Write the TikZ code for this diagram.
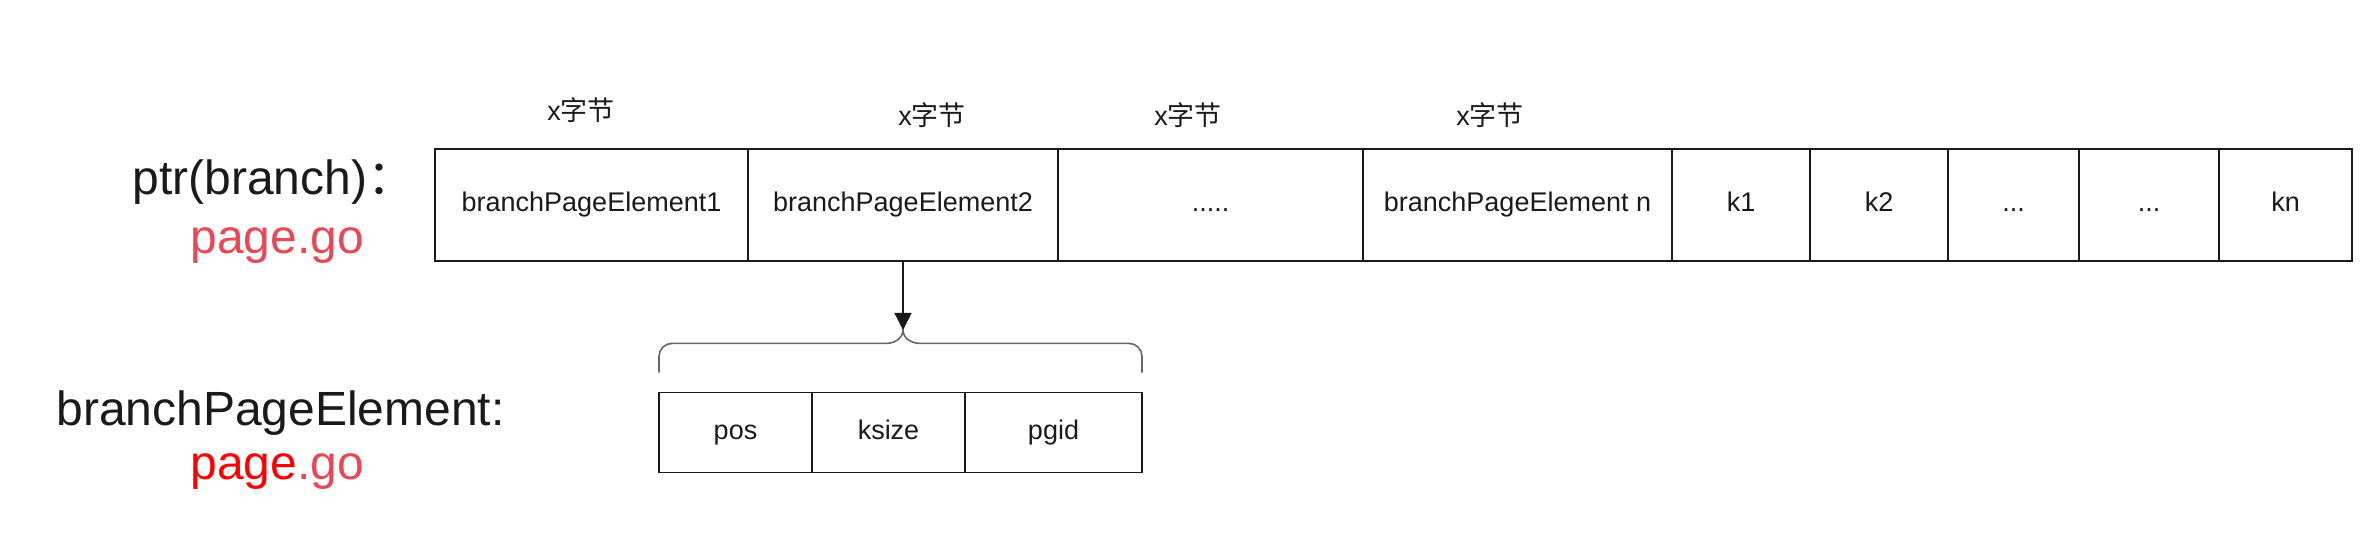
\documentclass[tikz,border=0pt]{standalone}
\usepackage{fontspec}
\setmainfont{Liberation Sans}
\newfontfamily\cjk{Noto Sans CJK SC}
\usetikzlibrary{positioning,arrows.meta}

\definecolor{inkblack}{RGB}{26,26,26}
\definecolor{gored}{RGB}{232,72,85}
\definecolor{bracegray}{RGB}{102,102,102}

\begin{document}
\begin{tikzpicture}[
    % work in points, with y going down the page
    x={(1pt,0pt)},
    y={(0pt,-1pt)},
    cell/.style={draw=inkblack, line width=0.9pt, minimum height=56pt,
        inner sep=0pt, outer sep=0pt, text=inkblack,
        text height=9.8pt, text depth=2.8pt,
        font=\fontsize{13.5}{16}\selectfont},
    field/.style={cell, minimum height=40pt},
    bytelabel/.style={text=inkblack, inner sep=0pt, text height=11pt, text depth=1.5pt,
        font=\fontsize{13.5}{16}\selectfont},
    biglabel/.style={anchor=base west, inner sep=0pt, font=\fontsize{24}{28}\selectfont}
]
    \useasboundingbox (0,0) rectangle (1180,272);

    % --- The branch page: elements followed by keys ---
    \node[cell, minimum width=156.5pt, anchor=north west] (e1) at (217.5,74.4) {branchPageElement1};
    \node[cell, minimum width=155pt, right=0pt of e1] (e2) {branchPageElement2};
    \node[cell, minimum width=152.5pt, right=0pt of e2] (e3) {.....};
    \node[cell, minimum width=154.5pt, right=0pt of e3] (e4) {branchPageElement n};
    \node[cell, minimum width=69pt, right=0pt of e4] (k1) {k1};
    \node[cell, minimum width=69pt, right=0pt of k1] (k2) {k2};
    \node[cell, minimum width=65.5pt, right=0pt of k2] (k3) {...};
    \node[cell, minimum width=70pt, right=0pt of k3] (k4) {...};
    \node[cell, minimum width=66.5pt, right=0pt of k4] (kn) {kn};

    % Sizes over the elements
    \node[bytelabel] (b1) at (290.5,55.5) {x{\cjk 字节}};
    \node[bytelabel] (b2) at (466,58) {x{\cjk 字节}};
    \node[bytelabel] (b3) at (594,58) {x{\cjk 字节}};
    \node[bytelabel] (b4) at (745,58) {x{\cjk 字节}};

    % --- One element, split into its fields ---
    \node[field, minimum width=76.5pt, anchor=north west] (pos) at (329.5,196.3) {pos};
    \node[field, minimum width=76.5pt, right=0pt of pos] (ksize) {ksize};
    \node[field, minimum width=88.5pt, right=0pt of ksize] (pgid) {pgid};

    % Brace over the fields
    \coordinate (tip) at (451.5,165);
    \draw[bracegray, line width=0.8pt]
        (329.5,186.3) -- (329.5,178.2)
        .. controls (329.5,174.6) and (332.4,171.7) .. (336,171.7)
        -- (443,171.7)
        .. controls (447.5,171.7) and (451.5,169) .. (tip)
        .. controls (451.5,169) and (455.5,171.7) .. (460,171.7)
        -- (564.5,171.7)
        .. controls (568.1,171.7) and (571,174.6) .. (571,178.2)
        -- (571,186.3);

    \draw[-{Triangle[length=8.5pt,width=8.5pt]}, inkblack, line width=0.7pt] (e2.south) -- (tip);

    % --- Names on the left ---
    \node[biglabel, text=inkblack] (ptrname) at (66,97.5) {ptr(branch){\cjk ：}};
    \node[biglabel, text=gored] (ptrfile) at (95,127) {page.go};
    \node[biglabel, text=inkblack] (elemname) at (28,213) {branchPageElement:};
    \node[biglabel] (elemfile) at (95,240) {\textcolor{red}{page}\textcolor{gored}{.go}};
\end{tikzpicture}
\end{document}
